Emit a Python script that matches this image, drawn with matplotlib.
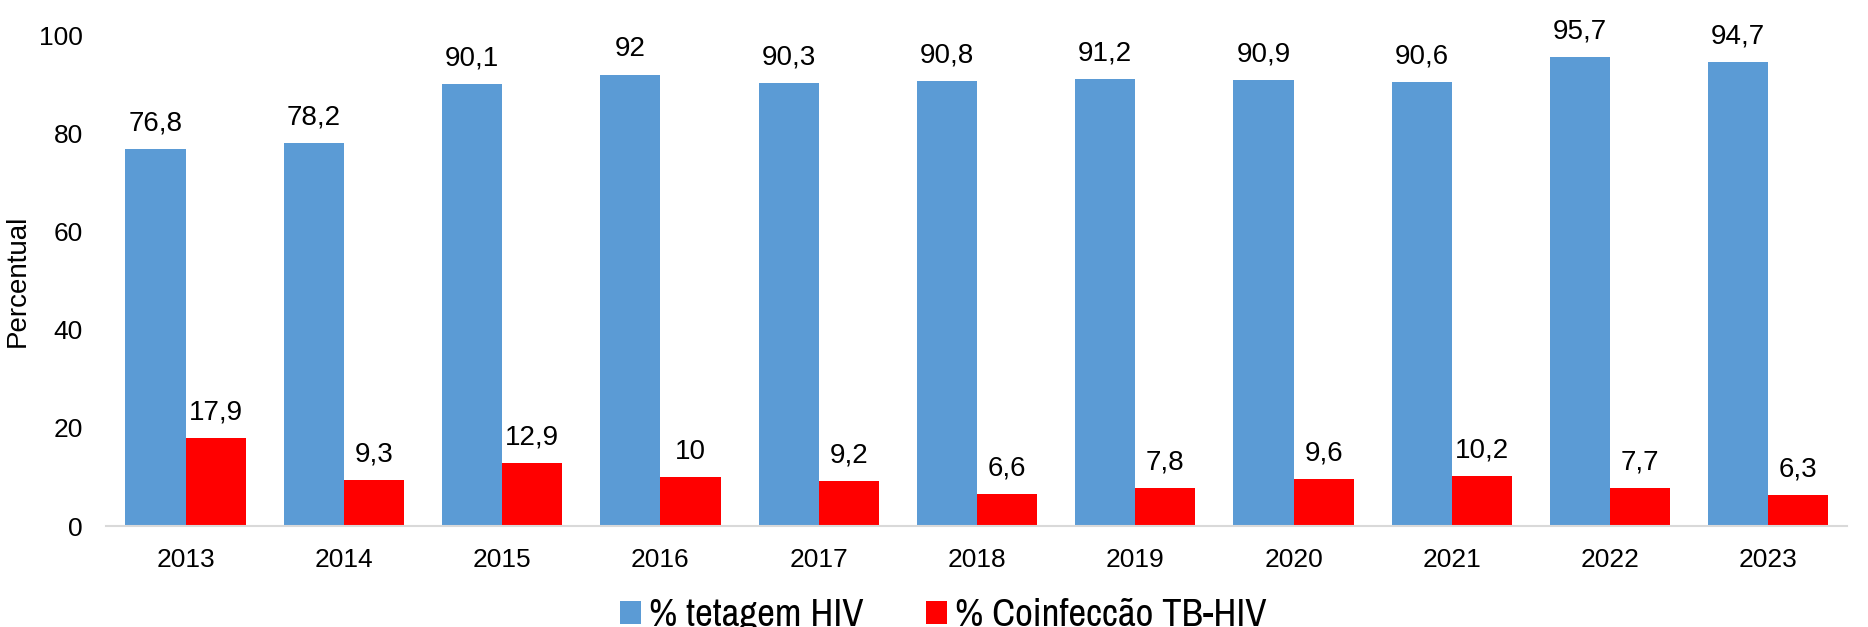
import numpy as np
import matplotlib.pyplot as plt
from matplotlib import font_manager

plt.rcParams['backend'] = 'Agg'
plt.rcParams['font.family'] = ['Liberation Sans', 'DejaVu Sans']

years = ['2013', '2014', '2015', '2016', '2017', '2018', '2019', '2020', '2021', '2022', '2023']
testagem = [76.8, 78.2, 90.1, 92, 90.3, 90.8, 91.2, 90.9, 90.6, 95.7, 94.7]
coinfeccao = [17.9, 9.3, 12.9, 10, 9.2, 6.6, 7.8, 9.6, 10.2, 7.7, 6.3]
series_names = ['% tetagem HIV', '% Coinfeccão TB-HIV']
colors = ['#5B9BD5', '#FF0000']


def fmt(v):
    s = f'{v:g}'
    return s.replace('.', ',')


fig = plt.figure(figsize=(18.68, 6.27), dpi=100)
ax = fig.add_axes([0.057, 0.161, 0.932, 0.782])

x = np.arange(len(years))
w = 0.38
b1 = ax.bar(x - w / 2, testagem, w, color=colors[0], label=series_names[0])
b2 = ax.bar(x + w / 2, coinfeccao, w, color=colors[1], label=series_names[1])

for bars, vals in ((b1, testagem), (b2, coinfeccao)):
    for rect, v in zip(bars, vals):
        ax.annotate(fmt(v), (rect.get_x() + rect.get_width() / 2, rect.get_height()),
                    xytext=(0, 9), textcoords='offset points',
                    ha='center', va='bottom', fontsize=20)

ax.set_xlim(-0.5, len(years) - 0.5)
ax.set_ylim(0, 100)
ax.set_yticks([0, 20, 40, 60, 80, 100])
ax.set_xticks(x)
ax.set_xticklabels(years)
ax.tick_params(axis='both', length=0, labelsize=19)
ax.tick_params(axis='x', pad=16)
ax.tick_params(axis='y', pad=17)
ax.set_ylabel('Percentual', fontsize=20, labelpad=6)

for side in ('top', 'right', 'left'):
    ax.spines[side].set_visible(False)
ax.spines['bottom'].set_color('#D9D9D9')
ax.spines['bottom'].set_linewidth(1.5)

# condensed face for the legend, like the Arial Narrow of the original
names = set(f.name for f in font_manager.fontManager.ttflist)
leg_family = 'Liberation Sans'
for cand in ['Liberation Sans Narrow', 'Nimbus Sans Narrow', 'Arial Narrow', 'Archivo Narrow',
             'Roboto Condensed', 'PT Sans Narrow']:
    if cand in names:
        leg_family = cand
        break

fig.legend(loc='center', bbox_to_anchor=(0.505, 0.018), ncol=2, frameon=False,
           prop={'family': leg_family, 'size': 28},
           handlelength=0.55, handleheight=0.55, handletextpad=0.2, columnspacing=1.6)

fig.savefig('out.png', dpi=100)
plt.close(fig)
